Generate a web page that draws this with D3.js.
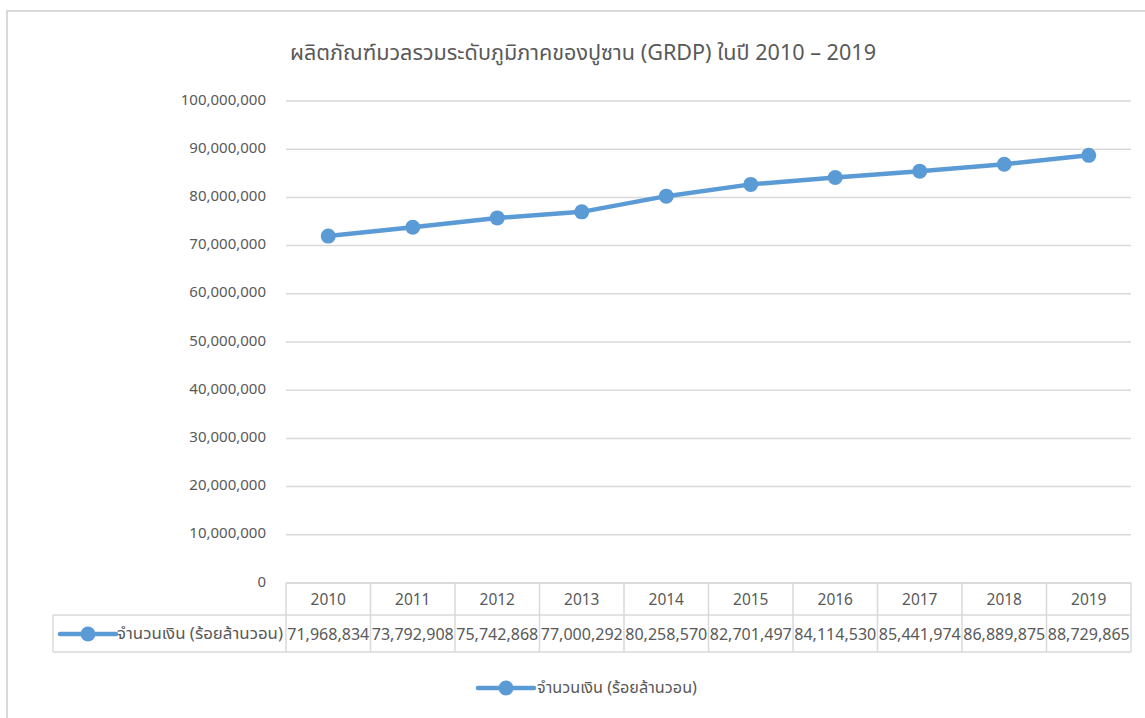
<!DOCTYPE html>
<html><head><meta charset="utf-8">
<script src="https://cdn.jsdelivr.net/npm/d3@7"></script>
<style>body{margin:0;background:#fff}svg{display:block}text{font-family:"Noto Sans Thai","Tahoma","Noto Sans","DejaVu Sans",sans-serif;fill:#595959}</style>
</head><body>
<svg id="c" width="1145" height="718"></svg>
<script>
const years = ["2010","2011","2012","2013","2014","2015","2016","2017","2018","2019"];
const values = [71968834,73792908,75742868,77000292,80258570,82701497,84114530,85441974,86889875,88729865];
const yTicks = [0,10000000,20000000,30000000,40000000,50000000,60000000,70000000,80000000,90000000,100000000];
const seriesName = "จำนวนเงิน (ร้อยล้านวอน)";
const title = "ผลิตภัณฑ์มวลรวมระดับภูมิภาคของปูซาน (GRDP) ในปี 2010 – 2019";

const svg = d3.select("#c");
const color = "#5B9BD5", grid = "#d9d9d9";
const fmt = d3.format(",");
const numFont = '"Noto Sans","Open Sans",sans-serif';

// outer border
svg.append("path").attr("d","M7,718 V11 H1145").attr("fill","none").attr("stroke",grid).attr("stroke-width",2);

svg.append("text").attr("x",583).attr("y",60).attr("text-anchor","middle").style("font-size","21px")
  .attr("textLength",586).attr("lengthAdjust","spacingAndGlyphs").text(title);

const x = d3.scaleBand().domain(years).range([286,1131]);
const y = d3.scaleLinear().domain([0,100000000]).range([583,101]);

// gridlines
svg.append("g").selectAll("line").data(yTicks).join("line")
  .attr("x1",286).attr("x2",1131).attr("y1",d=>y(d)).attr("y2",d=>y(d))
  .attr("stroke",grid).attr("stroke-width",1.5);

// y axis
const ya = svg.append("g").attr("transform","translate(286,0)")
  .call(d3.axisLeft(y).tickValues(yTicks).tickFormat(fmt).tickSize(0).tickPadding(20));
ya.select(".domain").remove();
ya.selectAll("text").style("font-size","15px").attr("fill","#595959").style("font-family",numFont).attr("dy","0.2em");

// line
const line = d3.line().x(d=>x(d.year)+x.bandwidth()/2).y(d=>y(d.v));
const pts = years.map((yr,i)=>({year:yr,v:values[i]}));
svg.append("path").datum(pts).attr("d",line).attr("fill","none").attr("stroke",color).attr("stroke-width",4.5).attr("stroke-linejoin","round");
svg.append("g").selectAll("circle").data(pts).join("circle")
  .attr("cx",d=>x(d.year)+x.bandwidth()/2).attr("cy",d=>y(d.v)).attr("r",7.5).attr("fill",color);

// data table
const hTop = 583, hMid = 615, hBot = 652, tLeft = 53;
const tg = svg.append("g").attr("stroke",grid).attr("stroke-width",1.5);
tg.append("line").attr("x1",286).attr("x2",1131).attr("y1",hTop).attr("y2",hTop);
tg.append("line").attr("x1",tLeft).attr("x2",1131).attr("y1",hMid).attr("y2",hMid);
tg.append("line").attr("x1",tLeft).attr("x2",1131).attr("y1",hBot).attr("y2",hBot);
tg.append("line").attr("x1",tLeft).attr("x2",tLeft).attr("y1",hMid).attr("y2",hBot);
const edges = years.map(d=>x(d)).concat([x.range()[1]]);
tg.selectAll("line.v").data(edges).join("line").attr("class","v")
  .attr("x1",d=>d).attr("x2",d=>d).attr("y1",hTop).attr("y2",hBot);

svg.append("g").selectAll("text").data(years).join("text")
  .attr("x",d=>x(d)+x.bandwidth()/2).attr("y",(hTop+hMid)/2+6).attr("text-anchor","middle")
  .style("font-size","15.5px").style("font-family",numFont).text(d=>d);
svg.append("g").selectAll("text").data(pts).join("text")
  .attr("x",d=>x(d.year)+x.bandwidth()/2).attr("y",(hMid+hBot)/2+6).attr("text-anchor","middle")
  .style("font-size","15.5px").style("font-family",numFont).attr("textLength",82).attr("lengthAdjust","spacingAndGlyphs").text(d=>fmt(d.v));

function legendKey(g, x0, cy){
  g.append("line").attr("x1",x0).attr("x2",x0+56).attr("y1",cy).attr("y2",cy).attr("stroke",color).attr("stroke-width",4.5).attr("stroke-linecap","round");
  g.append("circle").attr("cx",x0+28).attr("cy",cy).attr("r",7.5).attr("fill",color);
}
const lk = svg.append("g"); legendKey(lk, 60, 634);
svg.append("text").attr("x",117).attr("y",639).style("font-size","16px")
  .attr("textLength",166).attr("lengthAdjust","spacingAndGlyphs").text(seriesName);

const lg = svg.append("g"); legendKey(lg, 478, 688);
svg.append("text").attr("x",537).attr("y",693).style("font-size","16px")
  .attr("textLength",160).attr("lengthAdjust","spacingAndGlyphs").text(seriesName);
</script>
</body></html>
